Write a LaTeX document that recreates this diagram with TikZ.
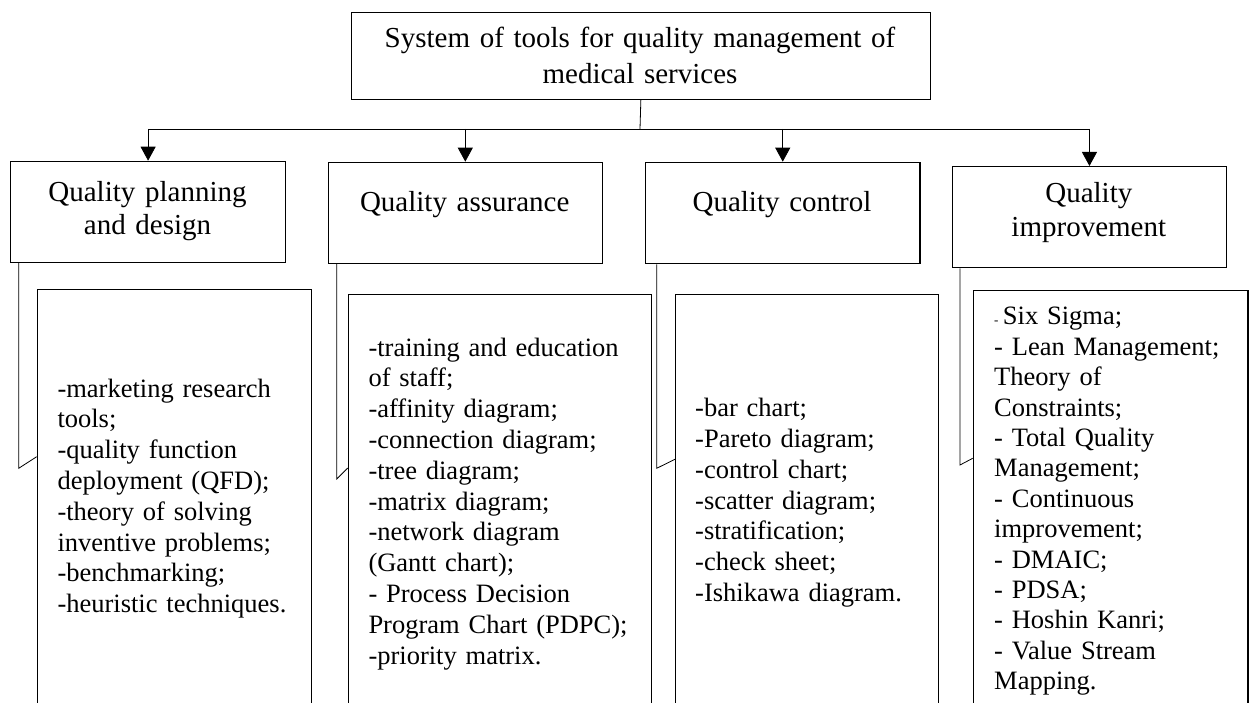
\documentclass[tikz,border=0pt]{standalone}
\usepackage{fontspec}
\setmainfont{Liberation Serif}
\usetikzlibrary{arrows.meta}

\begin{document}
\begin{tikzpicture}[x=1pt,y=-1pt,
  frame/.style={draw, line width=1.2pt, rectangle, inner sep=0pt, anchor=north west},
  wire/.style={line width=0.8pt},
  arrowwire/.style={wire, -{Triangle[length=14pt,width=15pt]}},
  headtext/.style={inner sep=0pt, anchor=base, text width=300pt, align=center,
    font=\fontsize{29}{33.3}\selectfont},
  listtext/.style={inner sep=0pt, anchor=base west, text width=290pt, align=left,
    font=\fontsize{26.5}{30.8}\selectfont},
]
\useasboundingbox (0,0) rectangle (1253,703);
\clip (0,0) rectangle (1253,703);

% root
\node[frame, minimum width=579.5pt, minimum height=87pt] (top) at (350.5,12) {};
\node[headtext, text width=560pt, font=\fontsize{29}{35.6}\selectfont] (toplbl) at (640,47.7)
  {System of tools for quality management of\\medical services};

% the four groups
\node[frame, minimum width=275pt, minimum height=101.3pt] (h1) at (10,160.7) {};
\node[frame, minimum width=274pt, minimum height=101pt] (h2) at (327.7,161.7) {};
\node[frame, minimum width=274.3pt, minimum height=101.6pt] (h3) at (645,161.7) {};
\node[frame, minimum width=274.3pt, minimum height=101.3pt] (h4) at (951.7,166) {};

\node[headtext] (h1lbl) at (147.5,201.7) {Quality planning\\and design};
\node[headtext] (h2lbl) at (464.7,211.7) {Quality assurance};
\node[headtext] (h3lbl) at (782,211.7) {Quality control};
\node[headtext] (h4lbl) at (1088.8,203) {Quality\\improvement};

% tool lists
\node[frame, minimum width=274.3pt, minimum height=500pt] (d1) at (36.7,289) {};
\node[frame, minimum width=303.3pt, minimum height=500pt] (d2) at (347.7,293.7) {};
\node[frame, minimum width=262.7pt, minimum height=500pt] (d3) at (675,293.7) {};
\node[frame, minimum width=274.6pt, minimum height=500pt] (d4) at (972.7,290) {};

\node[listtext] (d1lbl) at (57.3,397)
  {-marketing research\\tools;\\-quality function\\deployment (QFD);\\-theory of solving\\inventive problems;\\-benchmarking;\\-heuristic techniques.};
\node[listtext] (d2lbl) at (368.3,356)
  {-training and education\\of staff;\\-affinity diagram;\\-connection diagram;\\-tree diagram;\\-matrix diagram;\\-network diagram\\(Gantt chart);\\- Process Decision\\Program Chart (PDPC);\\-priority matrix.};
\node[listtext] (d3lbl) at (695,416.7)
  {-bar chart;\\-Pareto diagram;\\-control chart;\\-scatter diagram;\\-stratification;\\-check sheet;\\-Ishikawa diagram.};
\node[listtext, font=\fontsize{26.5}{30.4}\selectfont] (d4lbl) at (994,325)
  {{\fontsize{13}{13}\selectfont -}\,Six Sigma;\\- Lean Management;\\Theory of\\Constraints;\\- Total Quality\\Management;\\- Continuous\\improvement;\\- DMAIC;\\- PDSA;\\- Hoshin Kanri;\\- Value Stream\\Mapping.};

% distribution bus with arrows
\coordinate (bus) at (640,129);
\draw[wire] (top.south) -- (bus);
\draw[wire] (h1.north |- bus) -- (h4.north |- bus);
\foreach \h in {h1,h2,h3,h4}
  \draw[arrowwire] (\h.north |- bus) -- (\h.north);

% callout leaders from each group to its list
\coordinate (k1) at (18.7,468.3);  \coordinate (e1) at (36.7,456.7);
\coordinate (k2) at (336.7,479);   \coordinate (e2) at (347.7,468);
\coordinate (k3) at (656.7,468.3); \coordinate (e3) at (675,459.3);
\coordinate (k4) at (960,465);     \coordinate (e4) at (972.7,458.3);
\draw[wire] (h1.south -| k1) -- (k1) -- (e1);
\draw[wire] (h2.south -| k2) -- (k2) -- (e2);
\draw[wire] (h3.south -| k3) -- (k3) -- (e3);
\draw[wire] (h4.south -| k4) -- (k4) -- (e4);
\end{tikzpicture}
\end{document}
